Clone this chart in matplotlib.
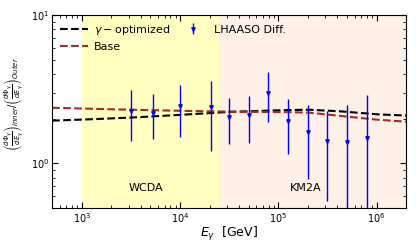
import numpy as np
import matplotlib
matplotlib.use("Agg")
import matplotlib.pyplot as plt

# Data
E_data = [3.2e3, 5.3e3, 1.0e4, 2.06e4, 3.16e4, 5.0e4, 7.9e4, 1.26e5, 2.0e5, 3.16e5, 5.0e5, 8.0e5]
R_data = [2.27, 2.19, 2.45, 2.40, 2.05, 2.12, 2.98, 1.94, 1.62, 1.41, 1.39, 1.48]
R_hi = [3.14, 2.92, 3.39, 3.61, 2.74, 2.86, 4.10, 2.72, 2.48, 2.27, 2.46, 2.90]
R_lo = [1.42, 1.46, 1.50, 1.22, 1.35, 1.37, 1.90, 1.16, 0.78, 0.56, 0.30, 0.30]

E_curve = [5e2, 1e3, 3e3, 1e4, 3e4, 1e5, 2e5, 4e5, 1e6, 2e6]
R_opt = [1.94, 1.97, 2.03, 2.12, 2.22, 2.28, 2.30, 2.25, 2.14, 2.10]
R_base = [2.37, 2.34, 2.30, 2.26, 2.23, 2.22, 2.20, 2.10, 1.97, 1.91]

fig = plt.figure(figsize=(4.17, 2.5), dpi=100)
ax = fig.add_axes([0.125, 0.168, 0.849, 0.772])

ax.axvspan(1e3, 2.5e4, color='#ffffc0', zorder=0, lw=0)
ax.axvspan(2.5e4, 2e6, color='#fdf0e6', zorder=0, lw=0)

# smooth curves in log space
xs = np.logspace(np.log10(5e2), np.log10(2e6), 300)
opt = 10**np.interp(np.log10(xs), np.log10(E_curve), np.log10(R_opt))
base = 10**np.interp(np.log10(xs), np.log10(E_curve), np.log10(R_base))
ax.plot(xs, opt, 'k--', lw=1.5, label=r'$\gamma-$optimized')
ax.plot(xs, base, '--', color='brown', lw=1.5, label='Base')

E = np.array(E_data); R = np.array(R_data)
yerr = [R - np.array(R_lo), np.array(R_hi) - R]
ax.errorbar(E, R, yerr=yerr, fmt='v', color='blue', ms=2.5, lw=1, capsize=0,
            label='LHAASO Diff.')

ax.set_xscale('log'); ax.set_yscale('log')
ax.set_xlim(5e2, 2e6); ax.set_ylim(0.5, 10)
ax.tick_params(which='both', direction='in', top=True, right=True, labelsize=7, pad=2)
ax.tick_params(which='major', length=4)
ax.tick_params(which='minor', length=2)
ax.yaxis.set_minor_formatter(matplotlib.ticker.NullFormatter())

ax.text(4.5e3, 0.68, 'WCDA', fontsize=8, ha='center', va='center')
ax.text(1.9e5, 0.68, 'KM2A', fontsize=8, ha='center', va='center')

ax.set_xlabel(r'$E_\gamma$  [GeV]', fontsize=9, labelpad=0)
ax.set_ylabel(r'$\left(\frac{d\Phi_\gamma}{dE_\gamma}\right)_{Inner} / \left(\frac{d\Phi_\gamma}{dE_\gamma}\right)_{Outer}$', fontsize=7)
ax.yaxis.set_label_coords(-0.075, 0.54)

ax.legend(loc='upper left', ncol=2, frameon=False, fontsize=8, handlelength=2.5,
          columnspacing=0.8, borderaxespad=0.3, handletextpad=0.6)

fig.savefig('out.png', dpi=100)
